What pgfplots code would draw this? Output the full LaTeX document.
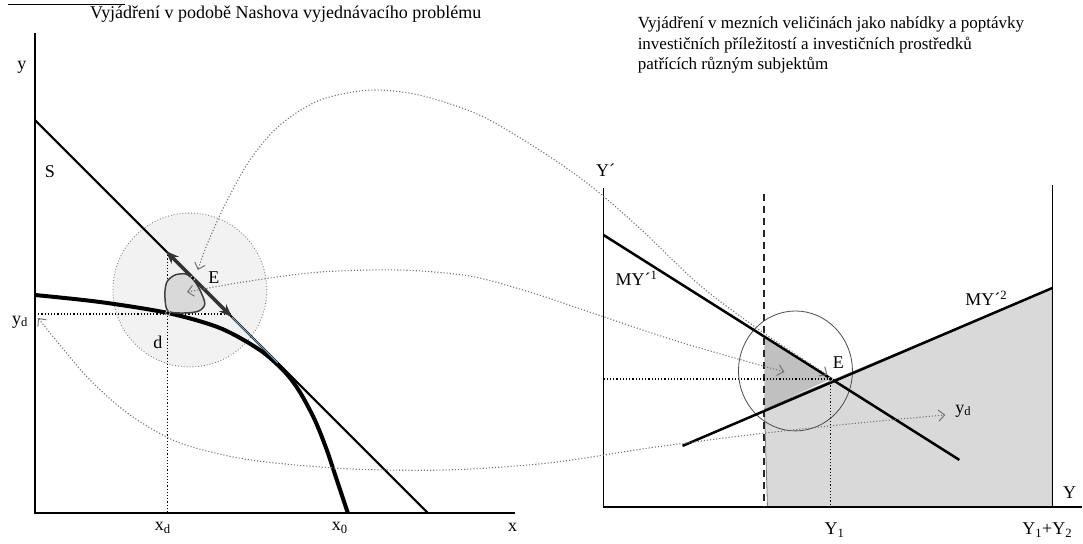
\documentclass[border=0pt]{standalone}
\usepackage{fontspec}
\setmainfont{Liberation Serif}
\usepackage{pgfplots}
\pgfplotsset{compat=1.18}
\usetikzlibrary{arrows.meta}
\definecolor{lgray}{RGB}{217,217,217}
\definecolor{dgray}{RGB}{192,192,192}
\definecolor{cgray}{RGB}{242,242,242}
\definecolor{tblue}{RGB}{120,160,200}
\begin{document}
\fontsize{18}{21}\selectfont
\begin{tikzpicture}
\begin{axis}[
  width=1083pt,height=541pt,scale only axis,
  xmin=0,xmax=1083,ymin=0,ymax=541,y dir=reverse,
  hide axis, clip=false,
  gar/.style={black!55, line width=1.1pt, dotted, {Straight Barb[length=6pt,width=11pt,line width=1pt,sep=0pt]}-{Straight Barb[length=6pt,width=11pt,line width=1pt]}},
]
\path (axis cs:0,0) rectangle (axis cs:1083,541);
% top cut underline
\addplot[black, line width=1.2pt] coordinates {(8,4) (125,4)};
% ---------- left panel ----------
\draw[gray, dotted, line width=0.9pt, fill=cgray] (axis cs:190,290) circle [radius=77pt];
% axes
\addplot[black, line width=1.5pt] coordinates {(35,33) (35,513) (515,513)};
% S line
\addplot[black, line width=2pt] coordinates {(35,120) (428,513)};
% frontier curve
\addplot[black, line width=4pt, smooth] coordinates {(35,295) (100,302) (168,313) (220,328) (260,350) (285,372) (300,392) (315,420) (327,450) (337,480) (348,513)};
% tangent blue segment
\addplot[tblue, line width=1.2pt] coordinates {(232,317) (278,363)};
% dotted guides
\addplot[black, line width=1.2pt, dotted] coordinates {(35,314) (232,314)};
\addplot[black, line width=1.2pt, dotted] coordinates {(168,252) (168,513)};
% blob
\addplot[black!75, line width=1.5pt, fill=lgray, smooth cycle] coordinates {(168,311) (165,295) (167,282) (175,275) (186,274) (194,280) (201,292) (205,304) (199,311) (185,313)};
% double arrow
\addplot[black!80, line width=3.5pt, {Stealth[length=13pt,width=10pt]}-{Stealth[length=13pt,width=10pt]}] coordinates {(166,251) (232,317)};
% points
\addplot[only marks, mark=*, mark size=2.2pt, black, mark options={draw=white, line width=0.5pt}] coordinates {(193,278) (168,313)};
% ---------- right panel ----------
\addplot[draw=gray, line width=0.8pt, fill=lgray] coordinates {(768,507) (765,409) (1053,288) (1053,507) (768,507)};
\addplot[draw=none, fill=dgray] coordinates {(765,337) (831,379) (765,409) (765,337)};
\addplot[black, line width=1.5pt] coordinates {(604,188) (604,507) (1083,507)};
\addplot[black, line width=1.5pt] coordinates {(1053,185) (1053,507)};
\addplot[black!85, line width=2pt, dash pattern=on 7pt off 5pt] coordinates {(765,194) (765,507)};
\addplot[black, line width=1.2pt, dotted] coordinates {(604,379) (831,379)};
\addplot[black, line width=1.2pt, dotted] coordinates {(831,379) (831,507)};
\draw[black!70, line width=0.8pt] (axis cs:796,371) ellipse [x radius=57pt, y radius=60pt];
\addplot[black, line width=2.5pt] coordinates {(604,235) (960,460)};
\addplot[black, line width=2.5pt] coordinates {(683,446) (1053,288)};
\addplot[only marks, mark=*, mark size=2.2pt, black, mark options={draw=white, line width=0.5pt}] coordinates {(831,379)};
% ---------- dotted connecting arrows ----------
\addplot[gar, smooth] coordinates {(828,375) (760,330) (700,285) (640,228) (590,185) (540,150) (480,115) (420,95) (370,90) (320,100) (280,125) (250,160) (225,205) (207,245) (198,270)};
\addplot[gar, smooth] coordinates {(187,292) (250,281) (320,272) (400,270) (470,276) (530,292) (590,312) (680,342) (785,372)};
\addplot[gar, smooth] coordinates {(38,318) (60,345) (90,380) (130,415) (180,443) (250,460) (350,469) (450,470) (550,463) (650,448) (750,435) (850,424) (946,415)};
% ---------- labels ----------
\node at (axis cs:286,14) {Vyjádření v podobě Nashova vyjednávacího problému};
\begin{scope}[every node/.append style={font=\fontsize{17}{20}\selectfont}]
\node[anchor=west] at (axis cs:632,24) {Vyjádření v mezních veličinách jako nabídky a poptávky};
\node[anchor=west] at (axis cs:632,45) {investičních příležitostí a investičních prostředků};
\node[anchor=west] at (axis cs:632,65) {patřících různým subjektům};
\end{scope}
\node at (axis cs:22,67) {y};
\node at (axis cs:50,172) {S};
\node at (axis cs:20,322) {y\textsubscript{d}};
\node at (axis cs:214,278) {E};
\node at (axis cs:158,342) {d};
\node at (axis cs:163,528) {x\textsubscript{d}};
\node at (axis cs:340,528) {x\textsubscript{0}};
\node at (axis cs:513,528) {x};
\node at (axis cs:606,170) {Y´};
\node at (axis cs:637,278) {MY´\textsuperscript{1}};
\node at (axis cs:987,298) {MY´\textsuperscript{2}};
\node at (axis cs:839,363) {E};
\node at (axis cs:964,411) {y\textsubscript{d}};
\node at (axis cs:835,530) {Y\textsubscript{1}};
\node at (axis cs:1048,530) {Y\textsubscript{1}+Y\textsubscript{2}};
\node[anchor=east] at (axis cs:1083,493) {Y};
\end{axis}
\end{tikzpicture}
\end{document}
